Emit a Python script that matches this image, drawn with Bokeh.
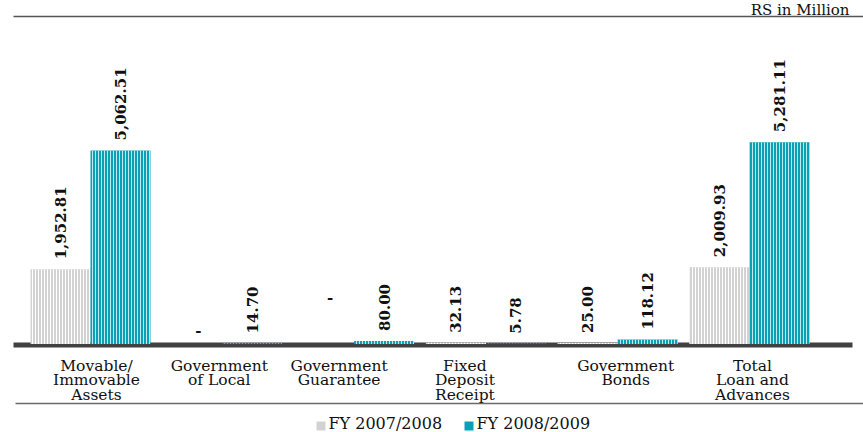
import math

from bokeh.core.properties import value
from bokeh.embed import file_html
from bokeh.models import ColumnDataSource, Range1d
from bokeh.plotting import figure
from bokeh.resources import INLINE

# ---- data -------------------------------------------------------------
categories = [
    "Movable/\nImmovable\nAssets",
    "Government\nof Local",
    "Government\nGuarantee",
    "Fixed\nDeposit\nReceipt",
    "Government\nBonds",
    "Total\nLoan and\nAdvances",
]
fy_2007_08 = [1952.81, None, None, 32.13, 25.00, 2009.93]   # None -> "-"
fy_2008_09 = [5062.51, 14.70, 80.00, 5.78, 118.12, 5281.11]
series_names = ["FY 2007/2008", "FY 2008/2009"]
unit_note = "RS in Million"

# ---- styling ----------------------------------------------------------
W, H = 863, 432
SERIF = "DejaVu Serif"
GREY, GREY_STRIPE = "#d2d2d2", "#ffffff"
TEAL, TEAL_STRIPE = "#0aa0b5", "#bfe9ef"
INK = "#111111"

ZERO_PX = 343.5            # screen row of the value 0
PX_PER_UNIT = (343.5 - 150) / 5062.51
GROUP0_PX, STEP_PX = 90, 131.8
BAR_W = 0.455              # in category units
label_shift = [6, -3, -15, -21, 8, 3]          # px nudges of category names
dash_lift = [0, 14, 47, 0, 0, 0]               # px height of "-" markers
legend_px = [316, 464]                         # left edge of each legend swatch


def px_x(px):
    return (px - GROUP0_PX) / STEP_PX


def px_y(py):
    return (ZERO_PX - py) / PX_PER_UNIT


p = figure(
    width=W, height=H,
    x_range=Range1d(px_x(0), px_x(W)),
    y_range=Range1d(px_y(H), px_y(0)),
    output_backend="svg", toolbar_location=None,
    x_axis_location=None, y_axis_location=None,
    min_border=0, outline_line_color=None,
)
p.grid.visible = False
p.background_fill_color = "white"
p.border_fill_color = "white"

# rules: top, baseline, bottom
p.segment(x0=[px_x(13)], y0=[px_y(16)], x1=[px_x(W)], y1=[px_y(16)],
          line_color="#555555", line_width=1.5)
p.segment(x0=[px_x(13)], y0=[px_y(344.5)], x1=[px_x(852)], y1=[px_y(344.5)],
          line_color="#414141", line_width=5)
p.segment(x0=[px_x(15)], y0=[px_y(403)], x1=[px_x(W)], y1=[px_y(403)],
          line_color="#6a6a6a", line_width=1.5)

idx = list(range(len(categories)))
x_a = [i - BAR_W / 2 for i in idx]
x_b = [i + BAR_W / 2 for i in idx]

src_a = ColumnDataSource(dict(
    x=[x for x, v in zip(x_a, fy_2007_08) if v is not None],
    top=[v for v in fy_2007_08 if v is not None],
))
src_b = ColumnDataSource(dict(x=x_b, top=fy_2008_09))

p.vbar(x="x", top="top", bottom=0, width=BAR_W, source=src_a,
       fill_color=GREY, line_color=None,
       hatch_pattern="|", hatch_color=GREY_STRIPE, hatch_scale=3, hatch_weight=1)
p.vbar(x="x", top="top", bottom=0, width=BAR_W, source=src_b,
       fill_color=TEAL, line_color=None,
       hatch_pattern="|", hatch_color=TEAL_STRIPE, hatch_scale=3, hatch_weight=1)

# value labels, rotated
lab_x, lab_y, lab_t = [], [], []
for xs, vals in ((x_a, fy_2007_08), (x_b, fy_2008_09)):
    for x, v in zip(xs, vals):
        if v is not None:
            lab_x.append(x)
            lab_y.append(v)
            lab_t.append(f"{v:,.2f}")
p.text(x=lab_x, y=lab_y, text=lab_t, angle=math.pi / 2, y_offset=-10,
       text_align="left", text_baseline="middle",
       text_font=value(SERIF), text_font_style="bold",
       text_font_size="15px", text_color=INK)

# "-" for missing values
dash_x = [x for x, v in zip(x_a, fy_2007_08) if v is None]
dash_off = [-dash_lift[i] for i, v in enumerate(fy_2007_08) if v is None]
p.text(x=dash_x, y=[0] * len(dash_x), text=["-"] * len(dash_x),
       x_offset=6, y_offset=dash_off, text_align="center", text_baseline="middle",
       text_font=value(SERIF), text_font_style="bold",
       text_font_size="15px", text_color=INK)

# category names under the baseline
p.text(x=idx, y=[0] * len(idx), text=categories,
       x_offset=label_shift, y_offset=13,
       text_align="center", text_baseline="top", text_line_height=0.8,
       text_font=value(SERIF), text_font_size="15.5px", text_color=INK)

# unit note in the top-right corner
p.text(x=[px_x(849)], y=[px_y(0)], text=[unit_note],
       text_align="right", text_baseline="top",
       text_font=value(SERIF), text_font_size="15px", text_color=INK)

# legend: swatch + series name
p.rect(x=[px_x(px + 4.5) for px in legend_px], y=[px_y(425.5)] * 2,
       width=9, height=9, width_units="screen", height_units="screen",
       fill_color=[GREY, TEAL], line_color=None)
p.text(x=[px_x(px + 12) for px in legend_px], y=[px_y(432)] * 2,
       text=series_names, text_align="left", text_baseline="bottom",
       text_font=value(SERIF), text_font_size="16px", text_color=INK)

open("out.html", "w").write(file_html(p, INLINE))
